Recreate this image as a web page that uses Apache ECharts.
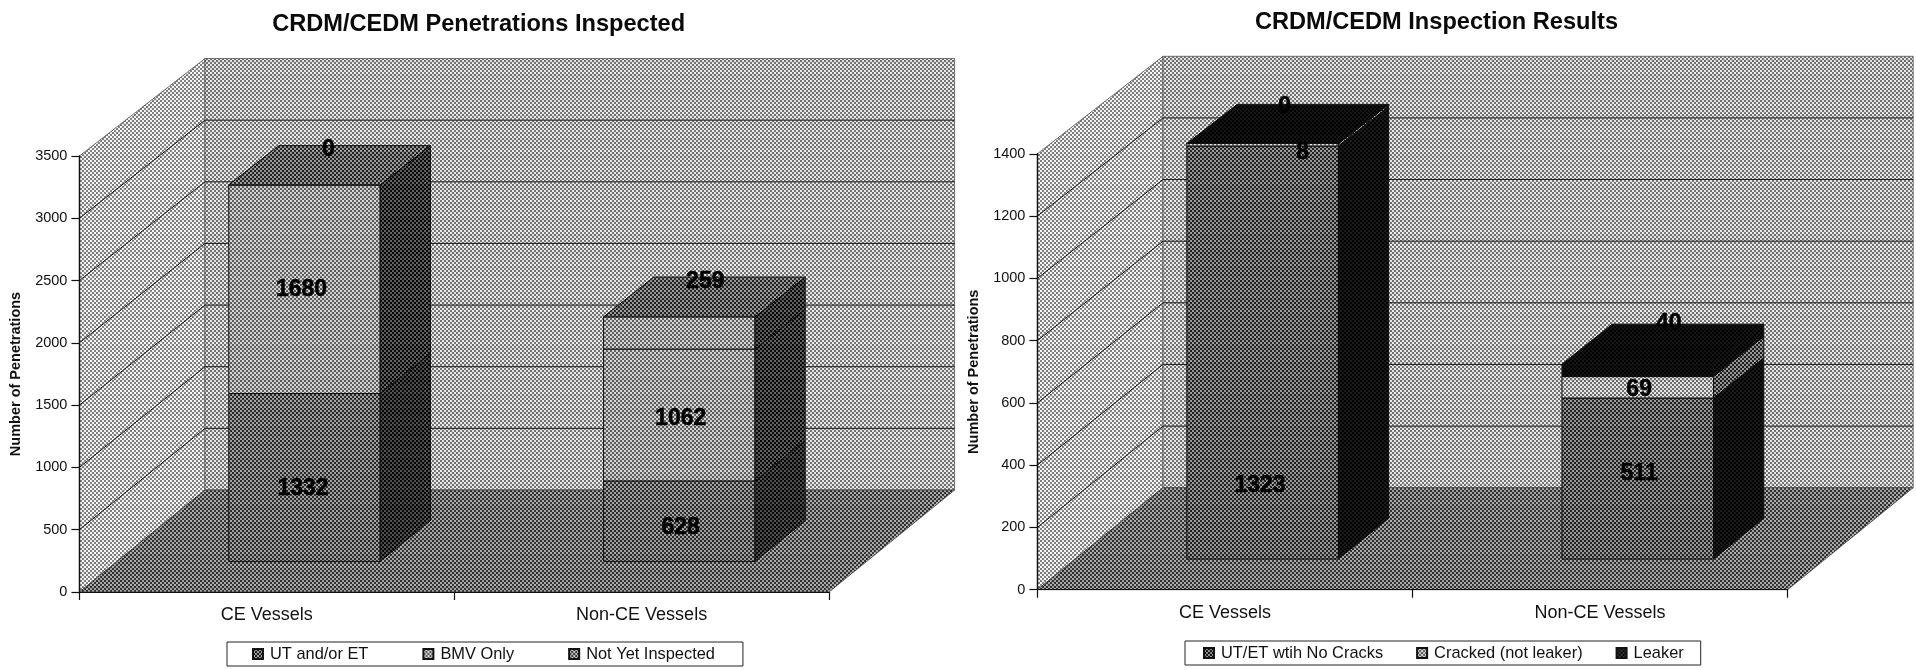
<!DOCTYPE html>
<html>
<head>
<meta charset="utf-8">
<style>html,body{margin:0;padding:0;background:#fff}#c{width:1916px;height:670px}</style>
<script src="https://cdn.jsdelivr.net/npm/echarts@6/dist/echarts.min.js"></script>
</head>
<body>
<div id="c"></div>
<script>
// ---------- data ----------
const categories = ['CE Vessels', 'Non-CE Vessels'];
const titleLeft = 'CRDM/CEDM Penetrations Inspected';
const titleRight = 'CRDM/CEDM Inspection Results';
const axisName = 'Number of Penetrations';
const namesLeft = ['UT and/or ET', 'BMV Only', 'Not Yet Inspected'];
const namesRight = ['UT/ET wtih No Cracks', 'Cracked (not leaker)', 'Leaker'];
const utEt = [1332, 628];
const bmvOnly = [1680, 1062];
const notYet = [0, 259];
const noCracks = [1323, 511];
const crackedOnly = [8, 69];
const leaker = [0, 40];
const maxLeft = 3500, stepLeft = 500;
const maxRight = 1400, stepRight = 200;

// ---------- look ----------
const FONT = '"Liberation Sans", Arial, sans-serif';
const DX = 125.6, DY0 = -102, DY1 = -97.5; // 3-D depth shift at floor / at top of the wall
const BAR_FRONT = 0.3, BAR_DEPTH = 0.4, BAR_WIDTH = 0.404, BAR_LIFT = 2.5;
const streaks = [0,5,-4,2,7,-6,1,-2,4,-5,3,6,-3,0,-7,2];
const cache = {};
function tile(gray) {
  if (cache[gray]) return cache[gray];
  const cell = 2, w = 8, h = 32;
  const cv = document.createElement('canvas'); cv.width = w; cv.height = h;
  const g = cv.getContext('2d');
  const amp = Math.min(58, gray * 0.85, (255 - gray) * 0.85);
  for (let y = 0; y < h / cell; y++) for (let x = 0; x < w / cell; x++) {
    const sign = (x + y) % 2 ? 1 : -1;
    const c = Math.max(0, Math.min(255, Math.round(gray + sign * amp + streaks[y % 16] * (gray > 40 ? 1 : 0.3))));
    g.fillStyle = 'rgb(' + c + ',' + c + ',' + c + ')';
    g.fillRect(x * cell, y * cell, cell, cell);
  }
  return cache[gray] = { image: cv, repeat: 'repeat' };
}
const LV = { wall: 172, side: 185, floor: 108 };
const stylesLeft = [
  { front: 102, side: 42, top: 92, icon: 90 },
  { front: 152, side: 52, top: 92, icon: 150 },
  { front: 152, side: 52, top: 93, icon: 125 }
];
const stylesRight = [
  { front: 92, side: 14, top: 12, icon: 80 },
  { front: 168, side: 90, top: 12, icon: 150 },
  { front: 10, side: 12, top: 11, icon: 30 }
];
// label shifts from the middle of each segment's front face [dx, dy], by series then category
const shiftLeft = [[[-1.4, 9.6], [1.4, 5]], [[-3, -2], [1.4, 1]], [[24, -38], [26, -54]]];
const shiftRight = [[[-2.6, 132], [1.4, -6]], [[40, 5], [1.4, 0]], [[22, -39], [31, -49]]];

function maker(max) {
  return function (api, cat, v, depth, xShift) {
    const p = api.coord([cat, v]);
    const dy = DY0 + (DY1 - DY0) * v / max;
    return [p[0] + (xShift || 0) + DX * depth, p[1] + dy * depth];
  };
}
function poly(points, gray, stroke, lw) {
  return { type: 'polygon', shape: { points }, style: { fill: tile(gray), stroke: stroke || '#111', lineWidth: lw || 1 } };
}
function wallSeries(i, max, step) {
  return {
    type: 'custom', name: 'walls' + i, xAxisIndex: i, yAxisIndex: i, silent: true, z: 1,
    data: [[0, 0]],
    renderItem(params, api) {
      const P = maker(max), cs = params.coordSys;
      const halfBand = cs.width / 4;
      const at = (side, v, d) => P(api, 0, v, d, side === 0 ? -halfBand : 3 * halfBand);
      const kids = [
        poly([at(0,0,0), at(0,0,1), at(0,max,1), at(0,max,0)], LV.side, '#555', 0.8),
        poly([at(0,0,1), at(1,0,1), at(1,max,1), at(0,max,1)], LV.wall, '#555', 0.8),
        poly([at(0,0,0), at(1,0,0), at(1,0,1), at(0,0,1)], LV.floor, '#444', 0.8)
      ];
      for (let v = step; v < max; v += step) {
        kids.push({ type: 'polyline', shape: { points: [at(0,v,0), at(0,v,1), at(1,v,1)] }, style: { fill: 'none', stroke: '#1c1c1c', lineWidth: 1 } });
      }
      return { type: 'group', children: kids };
    }
  };
}
function barSeries(i, name, values, bases, isTop, st, max) {
  return {
    type: 'custom', name, xAxisIndex: i, yAxisIndex: i, z: 2, silent: true,
    itemStyle: { color: tile(st.icon), borderColor: '#111', borderWidth: 1 },
    encode: { x: 0, y: 2 },
    data: values.map((v, c) => [c, bases[c], bases[c] + v]),
    renderItem(params, api) {
      const P = maker(max), cs = params.coordSys;
      const cat = api.value(0), lo = api.value(1), hi = api.value(2);
      const hw = cs.width / 2 * BAR_WIDTH / 2;
      const A = (v, d, s) => {
        const p = P(api, cat, v, BAR_FRONT + d, s);
        return [p[0], p[1] - (v > 0 ? BAR_LIFT : 0)];
      };
      const kids = [
        poly([A(lo,0,-hw), A(lo,0,hw), A(hi,0,hw), A(hi,0,-hw)], st.front),
        poly([A(lo,0,hw), A(lo,BAR_DEPTH,hw), A(hi,BAR_DEPTH,hw), A(hi,0,hw)], st.side)
      ];
      if (isTop) kids.push(poly([A(hi,0,-hw), A(hi,0,hw), A(hi,BAR_DEPTH,hw), A(hi,BAR_DEPTH,-hw)], st.top));
      return { type: 'group', children: kids };
    }
  };
}
function labelSeries(i, sets, shifts, max) {
  const rows = [];
  let bases = categories.map(() => 0);
  sets.forEach((vals, s) => {
    vals.forEach((v, c) => rows.push([c, bases[c] + v / 2, v, shifts[s][c][0], shifts[s][c][1]]));
    bases = bases.map((b, c) => b + vals[c]);
  });
  return {
    type: 'custom', name: 'labels' + i, xAxisIndex: i, yAxisIndex: i, z: 4, silent: true,
    encode: { x: 0, y: 1 },
    data: rows,
    renderItem(params, api) {
      const p = maker(max)(api, api.value(0), api.value(1), BAR_FRONT);
      return { type: 'text', style: {
        x: p[0] + api.value(3), y: p[1] + api.value(4), text: String(api.value(2)),
        font: 'bold 23px ' + FONT, fill: '#000', stroke: '#000', lineWidth: 0.5,
        textAlign: 'center', textVerticalAlign: 'middle' } };
    }
  };
}
function stack(sets, names, styles, i, max) {
  const out = []; let bases = categories.map(() => 0);
  sets.forEach((vals, s) => {
    out.push(barSeries(i, names[s], vals, bases, s === sets.length - 1, styles[s], max));
    bases = bases.map((b, c) => b + vals[c]);
  });
  return out;
}
function xAx(i) {
  return { type: 'category', gridIndex: i, data: categories, z: 5,
    axisLine: { lineStyle: { color: '#111', width: 1.2 } },
    axisTick: { show: true, alignWithLabel: false, length: 8, lineStyle: { color: '#111', width: 1.2 } },
    axisLabel: { fontFamily: FONT, fontSize: 18, color: '#111', margin: 14 } };
}
function yAx(i, max, step) {
  return { type: 'value', gridIndex: i, min: 0, max, interval: step, z: 5,
    name: axisName, nameLocation: 'middle', nameRotate: 90, nameGap: 56,
    nameTextStyle: { fontFamily: FONT, fontSize: 14.5, fontWeight: 'bold', color: '#111' },
    axisLine: { show: true, lineStyle: { color: '#111', width: 1.4 } },
    axisTick: { show: true, length: 8, lineStyle: { color: '#111', width: 1.2 } },
    splitLine: { show: false },
    axisLabel: { fontFamily: FONT, fontSize: 14.5, color: '#111', margin: 12, formatter: v => String(v) } };
}
function legend(names, left, top, gap, pl, pr) {
  return { data: names, left, top, orient: 'horizontal', selectedMode: false,
    itemWidth: 10, itemHeight: 10, itemGap: gap, icon: 'rect',
    padding: [4, pr, 4, pl], borderColor: '#222', borderWidth: 1, backgroundColor: '#fff',
    textStyle: { fontFamily: FONT, fontSize: 16.4, color: '#111', padding: [0, 0, 0, 2] } };
}
const setsL = [utEt, bmvOnly, notYet], setsR = [noCracks, crackedOnly, leaker];
const tStyle = { fontFamily: FONT, fontSize: 23.6, fontWeight: 'bold', color: '#0a0a0a' };
const option = {
  animation: false, backgroundColor: '#fff',
  title: [
    { text: titleLeft, left: 478.6, top: 12, textAlign: 'center', textStyle: tStyle, padding: 0 },
    { text: titleRight, left: 1436.5, top: 10, textAlign: 'center', textStyle: tStyle, padding: 0 }
  ],
  grid: [
    { left: 79.4, top: 156, width: 749.6, height: 436 },
    { left: 1037.4, top: 153.8, width: 750.2, height: 435.9 }
  ],
  xAxis: [xAx(0), xAx(1)],
  yAxis: [yAx(0, maxLeft, stepLeft), yAx(1, maxRight, stepRight)],
  legend: [legend(namesLeft, 227, 642, 54, 25, 28), legend(namesRight, 1185, 641, 33, 18, 17)],
  series: [
    wallSeries(0, maxLeft, stepLeft), wallSeries(1, maxRight, stepRight),
    ...stack(setsL, namesLeft, stylesLeft, 0, maxLeft),
    ...stack(setsR, namesRight, stylesRight, 1, maxRight),
    labelSeries(0, setsL, shiftLeft, maxLeft), labelSeries(1, setsR, shiftRight, maxRight)
  ]
};
echarts.init(document.getElementById('c'), null, { renderer: 'canvas', devicePixelRatio: 1 }).setOption(option);
</script>
</body>
</html>
